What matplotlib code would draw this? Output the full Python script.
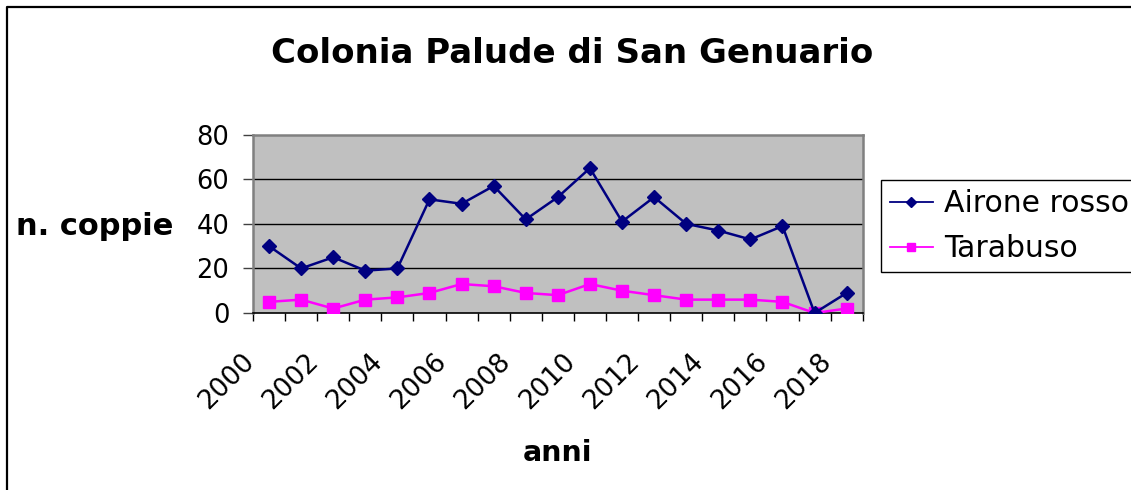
import matplotlib
matplotlib.use("Agg")
import matplotlib.pyplot as plt
import matplotlib.transforms as mtransforms
from matplotlib.lines import Line2D

# ---- data ----
years = list(range(2000, 2019))
airone_rosso = [30, 20, 25, 19, 20, 51, 49, 57, 42, 52, 65, 41, 52, 40, 37, 33, 39, 0, 9]
tarabuso = [5, 6, 2, 6, 7, 9, 13, 12, 9, 8, 13, 10, 8, 6, 6, 6, 5, 0, 2]
yticks = [0, 20, 40, 60, 80]
title = "Colonia Palude di San Genuario"
xlabel = "anni"
ylabel = "n. coppie"
series_names = ["Airone rosso", "Tarabuso"]

W, H = 1131, 490
plt.rcParams['font.family'] = ['DejaVu Sans']
fig = plt.figure(figsize=(W / 100, H / 100), dpi=100)
fig.patch.set_facecolor('white')

# axes placement (pixels)
L, R, T, B = 253, 862.7, 134.7, 313
ax = fig.add_axes([L / W, 1 - B / H, (R - L) / W, (B - T) / H])
ax.set_facecolor('#C0C0C0')

x = list(range(len(years)))
ax.plot(x, airone_rosso, color='#000080', lw=1.8, marker='D', markersize=7.5,
        markerfacecolor='#000080', markeredgecolor='#000080', label=series_names[0], zorder=4)
ax.plot(x, tarabuso, color='#FF00FF', lw=1.8, marker='s', markersize=8,
        markerfacecolor='#FF00FF', markeredgecolor='#FF00FF', label=series_names[1], zorder=3)

ax.set_xlim(-0.5, len(years) - 0.5)
ax.set_ylim(0, 80)
ax.set_yticks(yticks)
ax.set_yticklabels([str(v) for v in yticks])
for v in yticks[1:-1]:
    ax.axhline(v, color='black', lw=1.0, zorder=1)

# x ticks at category boundaries, labels every second category
ax.set_xticks([i - 0.5 for i in range(len(years) + 1)])
ax.set_xticklabels([''] * (len(years) + 1))
ax.set_xticks(x[::2], minor=True)
ax.set_xticklabels([str(y) for y in years[::2]], minor=True, rotation=45,
                   ha='right', va='top', rotation_mode='anchor', fontsize=19)
ax.tick_params(axis='x', which='major', direction='out', length=6, width=1, color='black')
ax.tick_params(axis='x', which='minor', length=0, pad=0)
ax.tick_params(axis='y', direction='out', length=7, width=1, color='#404040',
               labelsize=18.5, pad=10)
offset = mtransforms.ScaledTranslation(-28 / 100, -35 / 100, fig.dpi_scale_trans)
for lab in ax.get_xticklabels(minor=True):
    lab.set_transform(lab.get_transform() + offset)

for s in ['top', 'right', 'left']:
    ax.spines[s].set_color('#808080')
    ax.spines[s].set_linewidth(1.8)
ax.spines['bottom'].set_color('black')
ax.spines['bottom'].set_linewidth(1.2)

# titles
fig.text(572 / W, 1 - 63.3 / H, title, ha='center', va='baseline',
         fontsize=24.5, fontweight='bold')
fig.text(173 / W, 1 - 235 / H, ylabel, ha='right', va='baseline',
         fontsize=22, fontweight='bold')
fig.text(558 / W, 1 - 461 / H, xlabel, ha='center', va='baseline',
         fontsize=20.5, fontweight='bold')

# legend
leg = fig.legend(loc='upper left', bbox_to_anchor=(880.7 / W, 1 - 180 / H),
                 bbox_transform=fig.transFigure, borderaxespad=0, fontsize=21.5,
                 frameon=True, fancybox=False, shadow=False, framealpha=1,
                 edgecolor='black', handlelength=1.45, handletextpad=0.38,
                 borderpad=0.3, labelspacing=0.55)
leg.get_frame().set_linewidth(1.0)
for h in leg.legend_handles:
    h.set_markersize(5.5)
    h.set_linewidth(1.3)

# outer chart border (right and bottom edges lie outside the image)
bx, by = 7 / W, 1 - 7 / H
fig.add_artist(Line2D([bx, bx, 1.05], [-0.05, by, by], transform=fig.transFigure,
                      color='black', lw=1.6, clip_on=False))

fig.savefig('out.png', dpi=100)
